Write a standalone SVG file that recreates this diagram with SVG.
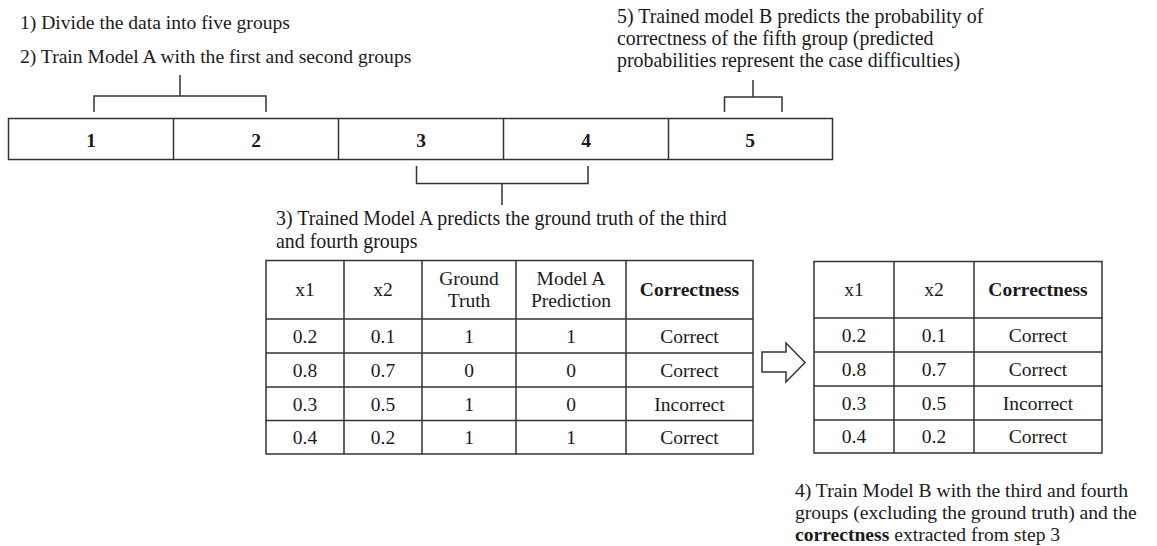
<svg xmlns="http://www.w3.org/2000/svg" width="1157" height="546" viewBox="0 0 1157 546">
<style>
text{font-family:"Liberation Serif","Times New Roman",serif;fill:#1a1a1a;font-size:19.5px}
.t{font-size:19.6px}
.u{font-size:19.9px}
.c{text-anchor:middle}
.b{font-weight:bold}
.ln{stroke:#333;stroke-width:1.5;fill:none}
.tb{stroke:#333;stroke-width:1.5;fill:#fff}
</style>
<rect width="1157" height="546" fill="#fff"/>
<g id="step1"><text class="t" x="20" y="29">1) Divide the data into five groups</text></g>
<g id="step2"><text class="t" x="20" y="63">2) Train Model A with the first and second groups</text></g>
<g id="step5"><text class="u" x="617" y="22.5">5) Trained model B predicts the probability of</text><text class="u" x="617" y="44.5">correctness of the fifth group (predicted</text><text class="u" x="617" y="66.5">probabilities represent the case difficulties)</text></g>
<g id="bar">
<rect class="tb" x="8.5" y="118.5" width="824" height="41"/>
<path class="ln" d="M173.5 118.5V159.5M338.5 118.5V159.5M503.5 118.5V159.5M668.5 118.5V159.5"/>
<text class="c b" x="91" y="147">1</text><text class="c b" x="256" y="147">2</text><text class="c b" x="421" y="147">3</text><text class="c b" x="586" y="147">4</text><text class="c b" x="750" y="147">5</text>
</g>
<g id="connectors">
<path class="ln" d="M94 112V96H266V112M180 96V75"/>
<path class="ln" d="M724.5 112V97H782V112M753 97V80" stroke="#555"/>
<path class="ln" d="M416.5 166V183.5H588V166M502 183.5V205"/>
</g>
<g id="step3"><text class="u" x="276" y="225">3) Trained Model A predicts the ground truth of the third</text><text class="u" x="276" y="248">and fourth groups</text></g>
<g id="table1">
<rect class="tb" x="266" y="260.5" width="487" height="193.5"/>
<path class="ln" d="M344 260.5V454M422 260.5V454M516 260.5V454M626 260.5V454M266 319H753M266 353H753M266 387H753M266 420.5H753"/>
<text class="c" x="305" y="296">x1</text><text class="c" x="383" y="296">x2</text>
<text class="c" x="469" y="285">Ground</text><text class="c" x="469" y="307">Truth</text>
<text class="c" x="571" y="285">Model A</text><text class="c" x="571" y="307">Prediction</text>
<text class="c b" x="689.5" y="296">Correctness</text>
<text class="c" x="305" y="343">0.2</text><text class="c" x="383" y="343">0.1</text><text class="c" x="469" y="343">1</text><text class="c" x="571" y="343">1</text><text class="c" x="689.5" y="343">Correct</text>
<text class="c" x="305" y="377">0.8</text><text class="c" x="383" y="377">0.7</text><text class="c" x="469" y="377">0</text><text class="c" x="571" y="377">0</text><text class="c" x="689.5" y="377">Correct</text>
<text class="c" x="305" y="410.5">0.3</text><text class="c" x="383" y="410.5">0.5</text><text class="c" x="469" y="410.5">1</text><text class="c" x="571" y="410.5">0</text><text class="c" x="689.5" y="410.5">Incorrect</text>
<text class="c" x="305" y="444">0.4</text><text class="c" x="383" y="444">0.2</text><text class="c" x="469" y="444">1</text><text class="c" x="571" y="444">1</text><text class="c" x="689.5" y="444">Correct</text>
</g>
<g id="arrow"><polygon class="ln" points="762,352 786,352 786,343 805,362.5 786,382 786,372 762,372" stroke-linejoin="miter"/></g>
<g id="table2">
<rect class="tb" x="814" y="261.5" width="288" height="191.5"/>
<path class="ln" d="M894 261.5V453M974 261.5V453M814 318H1102M814 352H1102M814 386H1102M814 420H1102"/>
<text class="c" x="854" y="296">x1</text><text class="c" x="934" y="296">x2</text><text class="c b" x="1038" y="296">Correctness</text>
<text class="c" x="854" y="342">0.2</text><text class="c" x="934" y="342">0.1</text><text class="c" x="1038" y="342">Correct</text>
<text class="c" x="854" y="376">0.8</text><text class="c" x="934" y="376">0.7</text><text class="c" x="1038" y="376">Correct</text>
<text class="c" x="854" y="410">0.3</text><text class="c" x="934" y="410">0.5</text><text class="c" x="1038" y="410">Incorrect</text>
<text class="c" x="854" y="443">0.4</text><text class="c" x="934" y="443">0.2</text><text class="c" x="1038" y="443">Correct</text>
</g>
<g id="step4"><text class="t" x="795" y="497">4) Train Model B with the third and fourth</text><text class="t" x="795" y="519">groups (excluding the ground truth) and the</text><text class="t" x="795" y="541"><tspan class="b">correctness</tspan> extracted from step 3</text></g>
</svg>
